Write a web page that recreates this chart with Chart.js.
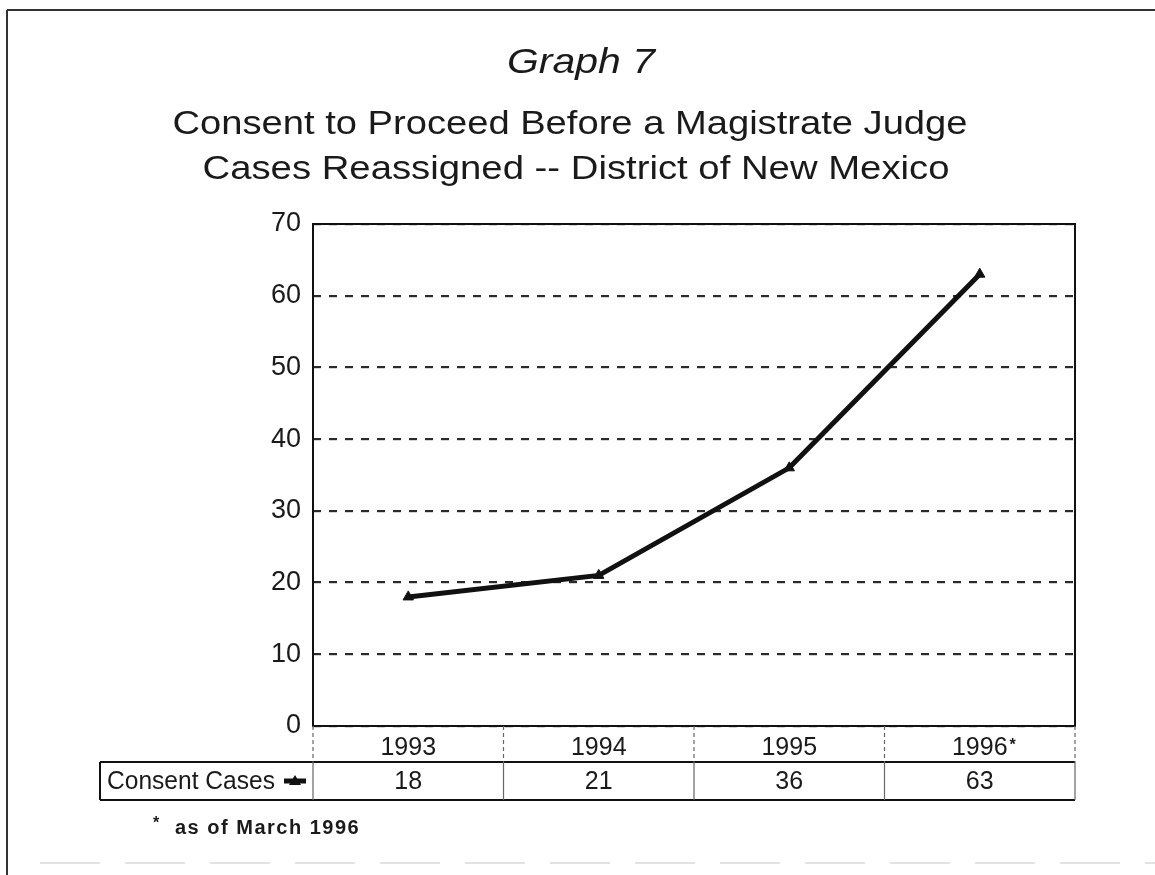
<!DOCTYPE html>
<html lang="en">
<head>
  <meta charset="UTF-8">
  <title>Graph 7 - Consent Cases Reassigned</title>
  <script src="https://cdn.jsdelivr.net/npm/chart.js"></script>
  <style>
    body {
      margin: 0;
      background: #fff;
    }
    .wrap {
      position: relative;
      width: 1155px;
      height: 875px;
    }
  </style>
</head>
<body>

<div class="wrap">
  <canvas id="consentChart"></canvas>
</div>

<script>
  const chartTitle = 'Graph 7';
  const subtitleLines = [
    'Consent to Proceed Before a Magistrate Judge',
    'Cases Reassigned -- District of New Mexico'
  ];
  const years = ['1993', '1994', '1995', '1996*'];
  const consentCases = [18, 21, 36, 63];
  const seriesLabel = 'Consent Cases';
  const yMax = 70;
  const yStep = 10;
  const footnote = 'as of March 1996';

  const FONT = "'Liberation Sans', Arial, sans-serif";
  const INK = '#1a1a1a';

  // draw text squeezed/stretched horizontally to fill a given width
  function wideText(ctx, text, x, y, width, align) {
    ctx.textAlign = align;
    const w = ctx.measureText(text).width;
    ctx.save();
    ctx.translate(x, y);
    ctx.scale(width / w, 1);
    ctx.fillText(text, 0, 0);
    ctx.restore();
  }

  function line(ctx, x1, y1, x2, y2) {
    ctx.beginPath();
    ctx.moveTo(x1, y1);
    ctx.lineTo(x2, y2);
    ctx.stroke();
  }

  const decorPlugin = {
    id: 'decor',
    afterDraw(chart) {
      const ctx = chart.ctx;
      const area = chart.chartArea;
      const xs = chart.scales.x;
      const ds = chart.data.datasets[0];
      const colW = xs.getPixelForValue(1) - xs.getPixelForValue(0);

      ctx.save();
      ctx.fillStyle = INK;
      ctx.textBaseline = 'alphabetic';

      // outer frame
      ctx.strokeStyle = '#333';
      ctx.lineWidth = 2;
      line(ctx, 7, 10, 1155, 10);
      line(ctx, 7, 10, 7, 875);
      ctx.strokeStyle = '#e2e2e2';
      ctx.setLineDash([60, 25]);
      line(ctx, 40, 863, 1155, 863);
      ctx.setLineDash([]);

      // titles
      ctx.font = 'italic 35px ' + FONT;
      wideText(ctx, chartTitle, 581, 73, 148, 'center');
      ctx.font = '34px ' + FONT;
      wideText(ctx, subtitleLines[0], 570, 134, 795, 'center');
      wideText(ctx, subtitleLines[1], 576, 179, 747, 'center');

      // plot frame
      ctx.strokeStyle = '#111';
      ctx.lineWidth = 2;
      ctx.strokeRect(area.left, area.top, area.right - area.left, area.bottom - area.top);

      // data table under the axis
      const rowTop = area.bottom;
      const rowMid = rowTop + 36;
      const rowBot = rowTop + 74;
      const tableLeft = 100;

      ctx.lineWidth = 2;
      line(ctx, tableLeft, rowMid, area.right, rowMid);
      line(ctx, tableLeft, rowBot, area.right, rowBot);
      line(ctx, tableLeft, rowMid, tableLeft, rowBot);

      ctx.lineWidth = 1.2;
      ctx.strokeStyle = '#666';
      for (let i = 0; i <= years.length; i++) {
        const x = i === 0 ? area.left : xs.getPixelForValue(i - 1) + colW / 2;
        ctx.setLineDash([4, 3]);
        line(ctx, x, rowTop, x, rowMid);
        ctx.setLineDash([]);
        line(ctx, x, rowMid, x, rowBot);
      }

      ctx.font = '25px ' + FONT;
      ctx.textAlign = 'center';
      years.forEach((yr, i) => {
        const cx = xs.getPixelForValue(i);
        if (yr.endsWith('*')) {
          const base = yr.slice(0, -1);
          ctx.fillText(base, cx, 755);
          const w = ctx.measureText(base).width;
          ctx.font = 'bold 16px ' + FONT;
          ctx.textAlign = 'left';
          ctx.fillText('*', cx + w / 2 + 2, 750);
          ctx.font = '25px ' + FONT;
          ctx.textAlign = 'center';
        } else {
          ctx.fillText(yr, cx, 755);
        }
        ctx.fillText(String(consentCases[i]), cx, 789);
      });

      wideText(ctx, seriesLabel, 107, 789, 168, 'left');

      // legend key: short line with the series marker
      const ky = 781;
      ctx.strokeStyle = ds.borderColor;
      ctx.lineWidth = ds.borderWidth;
      line(ctx, 284, ky, 306, ky);
      ctx.fillStyle = ds.borderColor;
      ctx.beginPath();
      ctx.moveTo(295, ky - 6);
      ctx.lineTo(301, ky + 4);
      ctx.lineTo(289, ky + 4);
      ctx.closePath();
      ctx.fill();

      // footnote
      ctx.fillStyle = INK;
      ctx.font = 'bold 16px ' + FONT;
      ctx.textAlign = 'left';
      ctx.fillText('*', 153, 828);
      ctx.font = 'bold 20px ' + FONT;
      ctx.letterSpacing = '1.5px';
      ctx.fillText(footnote, 175, 834);
      ctx.letterSpacing = '0px';

      ctx.restore();
    }
  };

  new Chart(document.getElementById('consentChart'), {
    type: 'line',
    data: {
      labels: years,
      datasets: [{
        label: seriesLabel,
        data: consentCases,
        borderColor: '#111',
        borderWidth: 5,
        pointStyle: 'triangle',
        pointRadius: 6,
        pointBackgroundColor: '#111',
        pointBorderColor: '#111',
        pointBorderWidth: 1,
        tension: 0,
        fill: false
      }]
    },
    options: {
      responsive: true,
      maintainAspectRatio: false,
      animation: false,
      devicePixelRatio: 1,
      layout: {
        padding: { top: 224, right: 80, left: 0, bottom: 0 }
      },
      plugins: {
        legend: { display: false },
        title: { display: false },
        tooltip: { enabled: false }
      },
      scales: {
        x: {
          type: 'category',
          offset: true,
          grid: { display: false },
          border: { display: false },
          ticks: { display: false },
          afterFit(scale) { scale.height = 149; }
        },
        y: {
          min: 0,
          max: yMax,
          ticks: {
            stepSize: yStep,
            padding: 12,
            color: INK,
            font: { family: FONT, size: 27 }
          },
          grid: {
            drawTicks: false,
            color: '#2a2a2a',
            lineWidth: 2.2
          },
          border: { display: false, dash: [8, 8] },
          afterFit(scale) { scale.width = 313; }
        }
      }
    },
    plugins: [decorPlugin]
  });
</script>

</body>
</html>
